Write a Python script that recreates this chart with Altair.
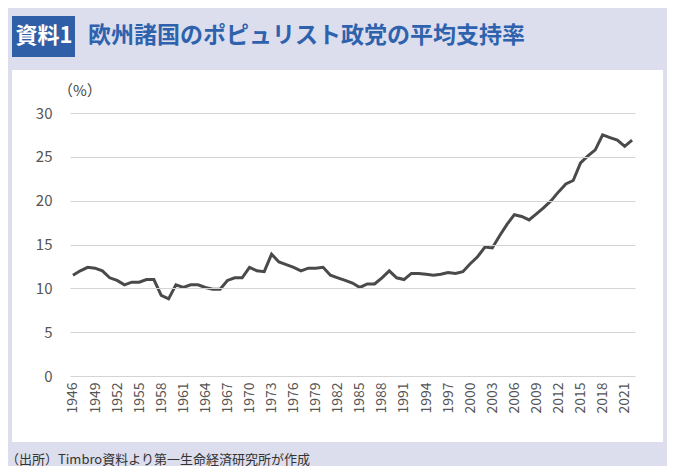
import altair as alt
import pandas as pd

years = list(range(1946, 2023))
support = [11.5, 12.0, 12.4, 12.3, 12.0, 11.2, 10.9, 10.4, 10.7, 10.7,
           11.0, 11.0, 9.2, 8.8, 10.4, 10.1, 10.4, 10.4, 10.1, 9.9,
           9.9, 10.9, 11.2, 11.2, 12.4, 12.0, 11.9, 13.9, 13.0, 12.7,
           12.4, 12.0, 12.3, 12.3, 12.4, 11.5, 11.2, 10.9, 10.6, 10.1,
           10.5, 10.5, 11.2, 12.0, 11.2, 11.0, 11.7, 11.7, 11.6, 11.5,
           11.6, 11.8, 11.7, 11.9, 12.8, 13.6, 14.7, 14.6, 16.0, 17.3,
           18.4, 18.2, 17.8, 18.5, 19.2, 20.0, 21.0, 21.9, 22.3, 24.3,
           25.1, 25.8, 27.5, 27.2, 26.9, 26.2, 26.9]
x_ticks = list(range(1946, 2022, 3))
y_ticks = [0, 5, 10, 15, 20, 25, 30]

df = pd.DataFrame({"year": years, "v": support})
one = pd.DataFrame({"a": [0]})
FONT = "Noto Sans CJK JP"

deco = alt.Chart(one)

panel = deco.mark_rect(color="white").encode(
    x=alt.value(-58), x2=alt.value(593), y=alt.value(-43), y2=alt.value(329))
tbox = deco.mark_rect(color="#2f5fa6").encode(
    x=alt.value(-58), x2=alt.value(5), y=alt.value(-97), y2=alt.value(-56))
ttag = deco.mark_text(text="資料1", color="white", fontSize=22, fontWeight="bold",
                      font=FONT, align="center", baseline="middle").encode(
    x=alt.value(-26), y=alt.value(-77))
ttl = deco.mark_text(text="欧州諸国のポピュリスト政党の平均支持率", color="#2e62ad",
                     fontSize=23, fontWeight="bold", font=FONT, align="left",
                     baseline="middle").encode(x=alt.value(18), y=alt.value(-77))
unit = deco.mark_text(text="（%）", color="#444", fontSize=15, font=FONT,
                      align="left", baseline="middle").encode(x=alt.value(-12), y=alt.value(-22))
src = deco.mark_text(text="（出所）Timbro資料より第一生命経済研究所が作成", color="#333",
                     fontSize=13, font=FONT, align="left", baseline="middle").encode(
    x=alt.value(-64), y=alt.value(347))

line = alt.Chart(df).mark_line(color="#4a4a4a", strokeWidth=3).encode(
    x=alt.X("year:Q", scale=alt.Scale(domain=[1945.6, 2022.4], nice=False, zero=False),
            axis=alt.Axis(values=x_ticks, format="d", labelAngle=-90, grid=False,
                          domain=False, ticks=False, labelFontSize=14, labelColor="#555",
                          labelFont=FONT, title=None, labelPadding=6, zindex=1)),
    y=alt.Y("v:Q", scale=alt.Scale(domain=[0, 30], nice=False),
            axis=alt.Axis(values=y_ticks, grid=True, gridColor="#d4d4d4", domain=False,
                          ticks=False, labelFontSize=15, labelColor="#555",
                          labelFont=FONT, title=None, labelPadding=18, zindex=1)),
)

chart = alt.layer(panel, tbox, ttag, ttl, unit, src, line).properties(
    width=565, height=263,
    autosize=alt.AutoSizeParams(type="none"),
    padding={"left": 62, "top": 105, "right": 32, "bottom": 90},
    background="#dcdeed",
).configure_view(stroke=None)

chart.save("out.html", embed_options={"renderer": "svg", "actions": False})
